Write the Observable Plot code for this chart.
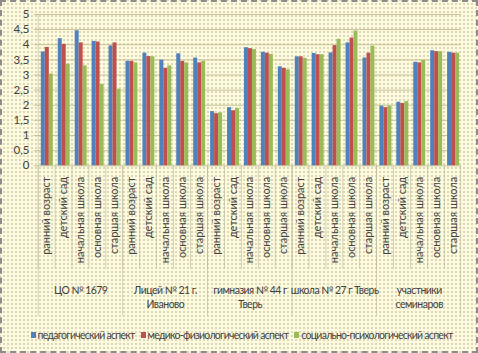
<!DOCTYPE html>
<html><head><meta charset="utf-8">
<script src="https://cdn.jsdelivr.net/npm/d3@7"></script>
<script src="https://cdn.jsdelivr.net/npm/@observablehq/plot@0.6"></script>
<style>
body{margin:0;}
#wrap{position:relative;width:478px;height:353px;box-sizing:border-box;border:2px dashed #8c8c8c;
background-color:#fdfbdc;background-image:radial-gradient(#d9d5c0 0.7px, transparent 0.9px);background-size:4px 4px;
font-family:Lato, Roboto, sans-serif;overflow:hidden;}
#chart{position:absolute;left:-2px;top:-2px;}
#chart svg g[aria-label="text"] text{letter-spacing:-0.5px;}
#legend{position:absolute;left:-2px;top:327px;width:478px;display:flex;justify-content:center;gap:6px;font-size:10.5px;letter-spacing:-0.72px;color:#404040;white-space:nowrap;padding-left:5px;box-sizing:border-box;}
#legend span.item{display:flex;align-items:center;gap:2px;flex-shrink:0;}
#legend span.sw{display:inline-block;width:5px;height:6px;}
</style></head><body><div id="wrap"><div id="chart"></div><div id="legend"></div></div>
<script>
const groups = ["ЦО № 1679","Лицей № 21 г.\nИваново","гимназия № 44 г\nТверь","школа № 27 г Тверь","участники\nсеминаров"];
const stages = ["ранний возраст","детский сад","начальная школа","основная школа","старшая школа"];
const series = ["педагогический аспект","медико-физиологический аспект","социально-психологический аспект"];
const colors = ["#4f81bd","#c0504d","#9bbb59"];
const pedagogical = [3.76,4.20,4.46,4.11,3.96, 3.45,3.72,3.49,3.70,3.56, 1.79,1.92,3.90,3.75,3.27, 3.60,3.71,3.73,4.06,3.56, 1.97,2.10,3.42,3.80,3.75];
const medical     = [3.91,4.01,4.06,4.09,4.06, 3.45,3.61,3.22,3.45,3.40, 1.72,1.82,3.87,3.72,3.22, 3.60,3.67,3.97,4.22,3.72, 1.92,2.06,3.40,3.77,3.72];
const social      = [3.03,3.36,3.30,2.69,2.53, 3.40,3.60,3.30,3.40,3.45, 1.75,1.89,3.84,3.68,3.17, 3.55,3.67,4.18,4.45,3.95, 1.97,2.12,3.48,3.77,3.72];
const yTicks = [0,0.5,1,1.5,2,2.5,3,3.5,4,4.5,5];

const W = 478, H = 322, ML = 33, MR = 10, MT = 14, MB = 156;
const keys = [];
groups.forEach((g, gi) => stages.forEach((s, si) => keys.push(gi + "|" + si)));
const stageOf = k => stages[+k.split("|")[1]];
const values = [pedagogical, medical, social];
const rows = [];
keys.forEach((k, i) => series.forEach((s, j) => rows.push({key: k, series: s, value: values[j][i]})));
const fw = (W - ML - MR) / keys.length;
const frameH = H - MT - MB;
const groupStarts = groups.map((g, gi) => gi + "|0");
const groupMid = groups.map((g, gi) => ({key: gi + "|2", label: g}));
const lineColor = "#bdb89c";

const plot = Plot.plot({
  width: W, height: H, marginLeft: ML, marginRight: MR, marginTop: MT, marginBottom: MB,
  style: {background: "transparent", fontFamily: "Lato, Roboto, sans-serif"},
  fx: {domain: keys, padding: 0, label: null},
  x: {domain: series, paddingInner: 0, paddingOuter: 0.55, axis: null},
  y: {domain: [0, 5], label: null},
  color: {domain: series, range: colors},
  marks: [
    Plot.gridY(yTicks, {stroke: "#c9c395", strokeOpacity: 1}),
    Plot.axisY(yTicks, {tickSize: 4, tickPadding: 5, stroke: "#c9c395", strokeOpacity: 1, fill: "#404040",
      tickFormat: d => String(d).replace(".", ","), label: null, fontSize: 11.5}),
    Plot.barY(rows, {fx: "key", x: "series", y: "value", fill: "series"}),
    Plot.axisFx({anchor: "bottom", tickSize: 0, tickPadding: 11, tickRotate: -90, tickFormat: stageOf,
      fontSize: 11, fill: "#404040", label: null}),
    // category separators
    Plot.rect(keys, {fx: d => d, insetRight: fw - 1, insetTop: frameH, insetBottom: -104, fill: lineColor}),
    // group separators
    Plot.rect(groupStarts, {fx: d => d, insetRight: fw - 1, insetTop: frameH, insetBottom: -151, fill: lineColor}),
    Plot.rect([keys[keys.length - 1]], {fx: d => d, insetLeft: fw - 1, insetTop: frameH, insetBottom: -151, fill: lineColor}),
    // y axis line
    Plot.rect([keys[0]], {fx: d => d, insetRight: fw - 1, fill: lineColor}),
    Plot.text(groupMid, {fx: "key", text: "label", frameAnchor: "bottom", dy: 118, lineAnchor: "top",
      lineHeight: 1.4, fontSize: 10.5, fill: "#404040"})
  ]
});
document.getElementById("chart").appendChild(plot);

const legend = document.getElementById("legend");
series.forEach((s, i) => {
  const item = document.createElement("span");
  item.className = "item";
  item.innerHTML = `<span class="sw" style="background:${colors[i]}"></span><span>${s}</span>`;
  legend.appendChild(item);
});
</script></body></html>
